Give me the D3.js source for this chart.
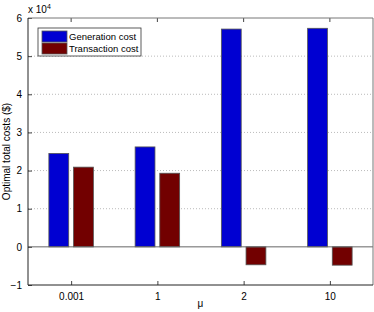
<!DOCTYPE html>
<html>
<head>
<meta charset="utf-8">
<script src="https://cdn.jsdelivr.net/npm/d3@7"></script>
<style>
  body { margin: 0; background: #fff; }
  text { font-family: "Liberation Sans", Arial, sans-serif; }
</style>
</head>
<body>
<div id="chart"></div>
<script>
// groups along x
const categories = ['0.001', '1', '2', '10'];
const seriesNames = ['Generation cost', 'Transaction cost'];
// values in units of 10^4 $
const generationCost = [2.45, 2.62, 5.71, 5.73];
const transactionCost = [2.09, 1.93, -0.47, -0.48];
const yTicks = [-1, 0, 1, 2, 3, 4, 5, 6];

const colors = ['#0000d2', '#720000'];

const width = 374;
const height = 312;
const margin = { top: 18, right: 1, bottom: 27, left: 28 };

const svg = d3.select('#chart').append('svg')
  .attr('width', width)
  .attr('height', height);

const w = width - margin.left - margin.right;
const h = height - margin.top - margin.bottom;

const g = svg.append('g')
  .attr('transform', 'translate(' + margin.left + ',' + margin.top + ')');

const xScale = d3.scaleLinear().domain([0.5, 4.5]).range([0, w]);
const yScale = d3.scaleLinear().domain([-1, 6]).range([h, 0]);

// grid lines
g.selectAll('.grid')
  .data(yTicks.filter(d => d > -1 && d < 6 && d !== 0))
  .enter().append('line')
    .attr('x1', 0).attr('x2', w)
    .attr('y1', d => yScale(d)).attr('y2', d => yScale(d))
    .style('stroke', '#bbb')
    .style('stroke-dasharray', '1,2')
    .style('stroke-width', 1);

// bars
const data = [];
categories.forEach((c, i) => {
  data.push({ i: i + 1, s: 0, v: generationCost[i] });
  data.push({ i: i + 1, s: 1, v: transactionCost[i] });
});
const barW = xScale(1.23) - xScale(1);
const off = xScale(1.143) - xScale(1);

g.selectAll('.bar')
  .data(data)
  .enter().append('rect')
    .attr('x', d => xScale(d.i) + (d.s === 0 ? -off : off) - barW / 2)
    .attr('y', d => yScale(Math.max(0, d.v)))
    .attr('width', barW)
    .attr('height', d => Math.abs(yScale(d.v) - yScale(0)))
    .style('fill', d => colors[d.s])
    .style('stroke', '#555')
    .style('stroke-width', 0.8);

// zero line
g.append('line')
  .attr('x1', 0).attr('x2', w)
  .attr('y1', yScale(0)).attr('y2', yScale(0))
  .style('stroke', '#666')
  .style('stroke-width', 1);

// axes
const xAxis = d3.axisBottom(xScale)
  .tickValues([1, 2, 3, 4])
  .tickFormat((d, i) => categories[i])
  .tickSizeInner(-4).tickSizeOuter(0).tickPadding(8);
const yAxis = d3.axisLeft(yScale)
  .tickValues(yTicks)
  .tickFormat(d => d < 0 ? '\u2212' + Math.abs(d) : d)
  .tickSizeInner(-4).tickSizeOuter(0).tickPadding(6);

const gx = g.append('g')
  .attr('transform', 'translate(0,' + h + ')')
  .call(xAxis);
const gy = g.append('g').call(yAxis);

[gx, gy].forEach(a => {
  a.select('.domain').remove();
  a.selectAll('text').style('font-size', '10px').style('fill', '#000');
  a.selectAll('line').style('stroke', '#444');
});

// top ticks
g.selectAll('.topTick')
  .data([1, 2, 3, 4])
  .enter().append('line')
    .attr('x1', d => xScale(d)).attr('x2', d => xScale(d))
    .attr('y1', 0).attr('y2', 4)
    .style('stroke', '#444');

// frame
g.append('line').attr('x1', 0).attr('x2', w).attr('y1', 0).attr('y2', 0).style('stroke', '#777');
g.append('line').attr('x1', w).attr('x2', w).attr('y1', 0).attr('y2', h).style('stroke', '#777');
g.append('line').attr('x1', 0).attr('x2', w).attr('y1', h).attr('y2', h).style('stroke', '#222');
g.append('line').attr('x1', 0).attr('x2', 0).attr('y1', 0).attr('y2', h).style('stroke', '#222');

// exponent label
const ex = svg.append('text')
  .attr('x', margin.left)
  .attr('y', margin.top - 5)
  .style('font-size', '10px');
ex.append('tspan').text('x 10');
ex.append('tspan').attr('dy', -4).style('font-size', '7px').text('4');

// axis labels
svg.append('text')
  .attr('x', margin.left + w / 2)
  .attr('y', height - 5)
  .attr('text-anchor', 'middle')
  .style('font-size', '10px')
  .text('\u03bc');

svg.append('text')
  .attr('transform', 'translate(10,' + (margin.top + h / 2) + ') rotate(-90)')
  .attr('text-anchor', 'middle')
  .style('font-size', '10px')
  .text('Optimal total costs ($)');

// legend
const lg = svg.append('g').attr('transform', 'translate(38,28)');
lg.append('rect')
  .attr('width', 103).attr('height', 28)
  .style('fill', '#fff').style('stroke', '#333').style('stroke-width', 0.8);
seriesNames.forEach((name, i) => {
  lg.append('rect')
    .attr('x', 4).attr('y', 3 + i * 12)
    .attr('width', 25).attr('height', 11)
    .style('fill', colors[i]).style('stroke', '#555').style('stroke-width', 0.8);
  lg.append('text')
    .attr('x', 31).attr('y', 12 + i * 12)
    .style('font-size', '9.5px')
    .text(name);
});
</script>
</body>
</html>
